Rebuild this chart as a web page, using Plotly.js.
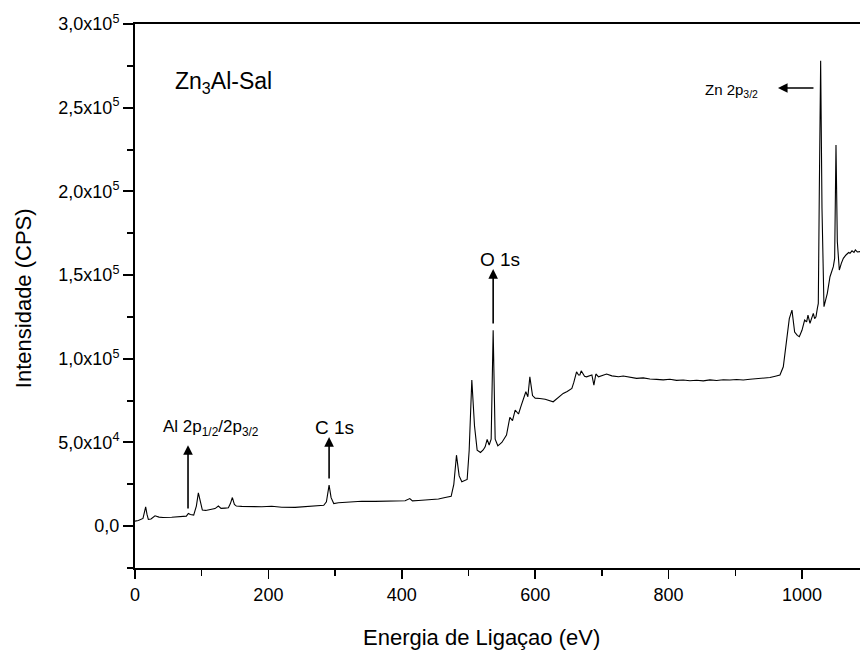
<!DOCTYPE html>
<html>
<head>
<meta charset="utf-8">
<script src="https://cdn.plot.ly/plotly-3.0.1.min.js"></script>
<style>html,body{margin:0;padding:0;background:#fff;}#chart{width:860px;height:650px;}</style>
</head>
<body>
<div id="chart"></div>
<script>
// Binding energy (eV)
const energy = [0, 5, 12, 14, 16, 18, 20, 24, 30, 36, 42, 55, 70, 77, 80, 83, 88, 92, 95, 98, 101, 106, 112, 120, 125, 129, 135, 140, 143, 146, 149, 152, 160, 175, 190, 205, 220, 240, 260, 275, 283, 287, 291, 294, 298, 305, 320, 340, 360, 380, 395, 405, 412, 416, 425, 440, 455, 465, 474, 478, 482, 486, 490, 498, 501, 505, 509, 513, 518, 522, 525, 528, 531, 534, 537, 540, 544, 550, 557, 562, 566, 570, 575, 579, 582, 586, 589, 592, 596, 600, 607, 615, 627, 635, 642, 648, 655, 658, 662, 665, 667, 669, 671, 674, 677, 681, 685, 688, 691, 695, 700, 707, 715, 725, 732, 742, 752, 762, 772, 782, 792, 802, 812, 822, 832, 842, 852, 862, 872, 882, 892, 902, 912, 922, 932, 942, 952, 960, 967, 972, 977, 981, 985, 989, 993, 996, 1000, 1004, 1007, 1009, 1012, 1015, 1017, 1019, 1021, 1023, 1024.5, 1026, 1028, 1030, 1033, 1036, 1038, 1042, 1045, 1047, 1049, 1051, 1053, 1056, 1059, 1062, 1066, 1070, 1072, 1075, 1078, 1080, 1083, 1087];
// Intensity (CPS)
const counts = [3000, 3400, 4600, 7500, 11500, 7000, 4000, 4300, 6200, 5400, 5200, 5300, 5600, 6000, 7600, 7000, 6600, 12000, 19900, 14000, 9600, 9400, 10000, 10500, 12000, 10600, 10800, 11000, 13500, 17100, 13000, 12000, 11800, 11500, 11600, 11900, 11300, 11200, 11600, 12000, 12500, 14500, 24500, 17000, 13500, 14000, 14500, 14900, 14800, 15000, 15100, 15200, 16500, 15100, 15300, 15600, 16200, 17100, 17800, 25000, 42400, 30000, 26500, 27900, 45000, 87300, 60000, 45400, 44000, 45500, 47400, 51800, 48500, 52000, 117000, 52000, 48000, 50000, 54400, 65000, 63000, 69300, 67000, 72000, 75300, 80300, 77300, 89200, 78000, 76500, 76300, 75800, 74300, 77000, 79300, 80500, 82300, 86000, 92200, 90300, 90300, 92800, 91500, 89500, 89200, 89800, 90300, 84300, 90900, 89200, 90000, 90900, 89800, 89300, 89700, 88800, 88300, 88600, 87900, 87700, 87400, 87800, 87100, 87300, 86900, 87200, 86800, 87400, 87000, 87500, 87300, 87600, 87300, 87800, 88100, 88300, 88800, 89600, 90300, 95200, 110000, 124000, 129100, 116000, 114000, 113200, 117000, 123100, 122000, 126100, 121200, 125000, 127100, 124000, 125100, 130000, 133100, 200000, 278000, 190000, 131100, 136000, 139100, 149000, 152000, 155000, 160000, 227700, 170000, 153000, 157000, 160000, 162000, 163500, 163000, 164500, 163500, 165000, 163800, 164000];

const yTickVals = [0, 50000, 100000, 150000, 200000, 250000, 300000];
const yTickText = ['0,0', '5,0x10<sup>4</sup>', '1,0x10<sup>5</sup>', '1,5x10<sup>5</sup>', '2,0x10<sup>5</sup>', '2,5x10<sup>5</sup>', '3,0x10<sup>5</sup>'];

const FONT = 'Liberation Sans, Arial, sans-serif';

const trace = {
  x: energy, y: counts, type: 'scatter', mode: 'lines',
  line: {color: '#000', width: 1.1}, hoverinfo: 'skip'
};

function arrow(xh, yh, xt, yt) {
  return {x: xh, y: yh, ax: xt, ay: yt, axref: 'x', ayref: 'y', xref: 'x', yref: 'y',
    text: '', showarrow: true, arrowhead: 2, arrowsize: 1.2, arrowwidth: 1.6,
    arrowcolor: '#000', standoff: 0, startstandoff: 0};
}
function label(txt, x, y, size, xanchor) {
  return {x: x, y: y, xref: 'x', yref: 'y', text: txt, showarrow: false,
    xanchor: xanchor || 'center', yanchor: 'middle', font: {family: FONT, size: size, color: '#000'}};
}

const layout = {
  width: 860, height: 650,
  margin: {l: 135, r: 0, t: 24, b: 82, pad: 0},
  paper_bgcolor: '#fff', plot_bgcolor: '#fff',
  showlegend: false,
  font: {family: FONT, color: '#000'},
  xaxis: {
    range: [0, 1087], showgrid: false, zeroline: false,
    showline: true, linewidth: 2, linecolor: '#000', mirror: true,
    ticks: 'outside', ticklen: 9, tickwidth: 1.5, tickcolor: '#000',
    tickmode: 'linear', tick0: 0, dtick: 200,
    minor: {dtick: 100, ticks: 'outside', ticklen: 6, tickwidth: 1.5, tickcolor: '#000'},
    tickfont: {family: FONT, size: 18, color: '#000'}
  },
  yaxis: {
    range: [-25000, 300000], showgrid: false, zeroline: false,
    showline: true, linewidth: 2, linecolor: '#000', mirror: false,
    ticks: 'outside', ticklen: 10, tickwidth: 2, tickcolor: '#000',
    tickmode: 'array', tickvals: yTickVals, ticktext: yTickText,
    minor: {tickmode: 'linear', tick0: 0, dtick: 25000, ticks: 'outside', ticklen: 6, tickwidth: 2, tickcolor: '#000'},
    tickfont: {family: FONT, size: 18, color: '#000'}
  },
  annotations: [
    {xref: 'paper', yref: 'paper', x: 0.4786, y: -0.127, text: 'Energia de Ligaçao (eV)', showarrow: false,
     xanchor: 'center', yanchor: 'middle', font: {family: FONT, size: 22, color: '#000'}},
    {xref: 'paper', yref: 'paper', x: -0.1545, y: 0.496, text: 'Intensidade (CPS)', showarrow: false, textangle: -90,
     xanchor: 'center', yanchor: 'middle', font: {family: FONT, size: 22, color: '#000'}},
    {xref: 'x', yref: 'y', x: 57, y: 265000, text: 'Zn<sub>3</sub>Al-Sal', showarrow: false,
     xanchor: 'left', yanchor: 'middle', font: {family: FONT, size: 23, color: '#000'}},
    arrow(79.5, 48400, 79.5, 9600),
    label('Al 2p<sub>1/2</sub>/2p<sub>3/2</sub>', 114, 58500, 17),
    arrow(291, 53200, 291, 27500),
    label('C 1s', 299, 59000, 19),
    arrow(537, 153600, 537, 120100),
    label('O 1s', 547, 159500, 19),
    arrow(964, 261800, 1019.5, 261800),
    label('Zn 2p<sub>3/2</sub>', 937, 260500, 15, 'right')
  ]
};

Plotly.newPlot('chart', [trace], layout, {staticPlot: true, displayModeBar: false});
</script>
</body>
</html>
